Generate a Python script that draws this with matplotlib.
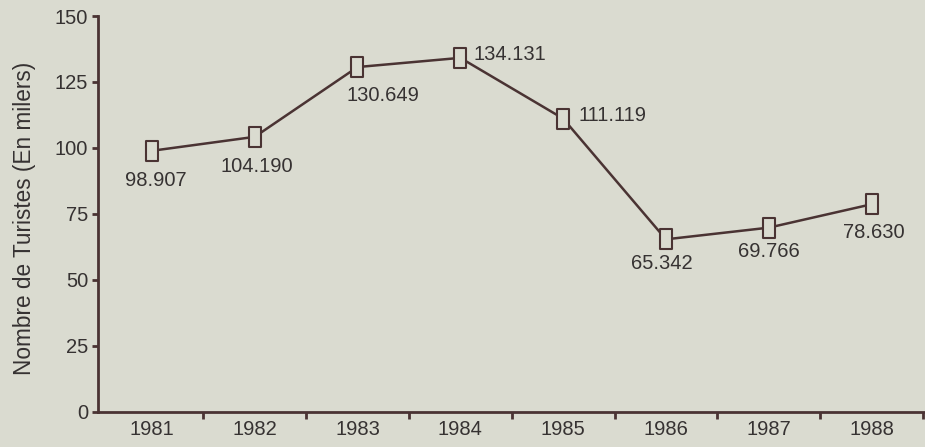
import matplotlib
matplotlib.use("Agg")
import matplotlib.pyplot as plt
from matplotlib.path import Path

# Tourist arrivals per year (thousands)
years = ["1981", "1982", "1983", "1984", "1985", "1986", "1987", "1988"]
tourists = [98.907, 104.190, 130.649, 134.131, 111.119, 65.342, 69.766, 78.630]
value_labels = ["98.907", "104.190", "130.649", "134.131", "111.119", "65.342", "69.766", "78.630"]
y_ticks = [0, 25, 50, 75, 100, 125, 150]

# label placement (offset in pixels, horizontal alignment)
label_pos = [
    ((4, -30), "center"),
    ((2, -30), "center"),
    ((-11, -28), "left"),
    ((13, 3), "left"),
    ((15, 3), "left"),
    ((-4, -24), "center"),
    ((0, -24), "center"),
    ((2, -28), "center"),
]

bg = "#dadbd0"
ink = "#4a3333"
txt = "#363232"

plt.rcParams["font.family"] = ["Liberation Sans", "DejaVu Sans"]

fig = plt.figure(figsize=(9.25, 4.47), dpi=100, facecolor=bg)
ax = fig.add_axes([98 / 925, 35.3 / 447, 1 - 98 / 925, (411.7 - 16) / 447])
ax.set_facecolor(bg)

# tall rectangular marker
rect = Path([(-0.6, -1), (0.6, -1), (0.6, 1), (-0.6, 1), (-0.6, -1)],
            [Path.MOVETO, Path.LINETO, Path.LINETO, Path.LINETO, Path.CLOSEPOLY])

x = list(range(len(years)))
ax.plot(x, tourists, color=ink, lw=1.8, marker=rect, markersize=14,
        markerfacecolor=bg, markeredgecolor=ink, markeredgewidth=1.5, zorder=3)

for xi, yi, lab, (off, ha) in zip(x, tourists, value_labels, label_pos):
    ax.annotate(lab, (xi, yi), xytext=off, textcoords="offset pixels",
                ha=ha, va="center", fontsize=14.5, color=txt)

ax.set_xlim(-0.524, 7.52)
ax.set_ylim(0, 150)
ax.set_yticks(y_ticks)
ax.set_yticklabels([str(v) for v in y_ticks], fontsize=14.5, color=txt)

# category boundaries carry the tick marks, labels sit at the categories
ax.set_xticks([i + 0.5 for i in range(len(years))])
ax.set_xticklabels([])
ax.set_xticks(x, minor=True)
ax.set_xticklabels(years, minor=True, fontsize=14.5, color=txt)
ax.tick_params(axis="x", which="major", direction="out", length=5, width=2, color=ink)
ax.tick_params(axis="x", which="minor", length=0, pad=6)
ax.tick_params(axis="y", direction="out", length=4, width=2, color=ink, pad=3)

for side in ("top", "right"):
    ax.spines[side].set_visible(False)
for side in ("left", "bottom"):
    ax.spines[side].set_color(ink)
    ax.spines[side].set_linewidth(2)

fig.text(25 / 925, 1 - 218.5 / 447, "Nombre de Turistes (En milers)", rotation=90,
         ha="center", va="center", fontsize=16.3, color=txt)

fig.savefig("out.png", dpi=100, facecolor=bg)
